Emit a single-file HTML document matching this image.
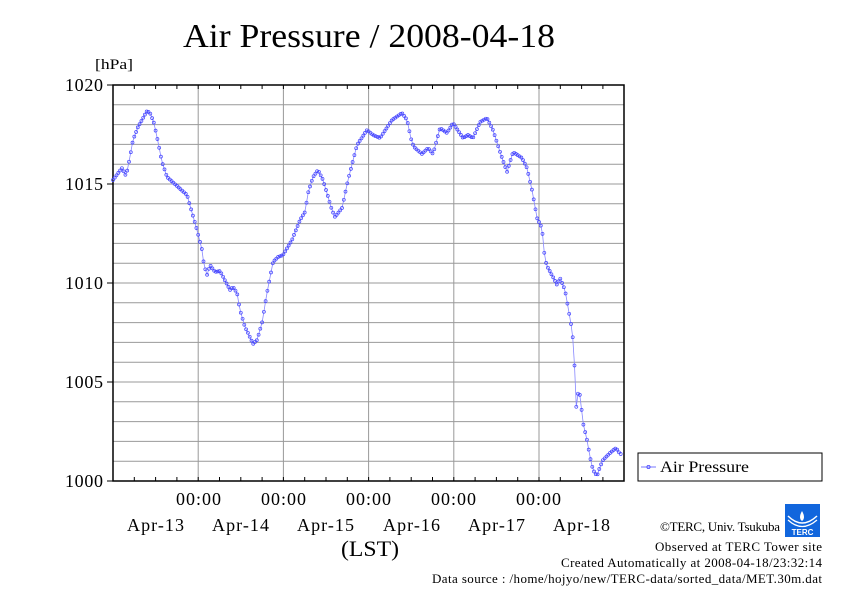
<!DOCTYPE html>
<html><head><meta charset="utf-8"><style>
body{margin:0;background:#fff;width:842px;height:595px;overflow:hidden}
svg{display:block;font-family:"Liberation Serif",serif}
</style></head><body>
<svg id="s" width="842" height="595" viewBox="0 0 842 595" xmlns="http://www.w3.org/2000/svg">
<rect width="842" height="595" fill="#fff"/>
<text x="183" y="47" font-size="34" textLength="372" lengthAdjust="spacingAndGlyphs">Air Pressure / 2008-04-18</text>
<text x="95" y="69" font-size="15" textLength="38" lengthAdjust="spacingAndGlyphs">[hPa]</text>
<g id="grid" stroke="#999" stroke-width="1"></g>
<rect x="113" y="85" width="511" height="396" fill="none" stroke="#000" stroke-width="1.5"/>
<g id="ticks" stroke="#000" stroke-width="1"></g>
<g font-size="18" lengthAdjust="spacingAndGlyphs">
<text x="65" y="91" textLength="38">1020</text><text x="65" y="190" textLength="38">1015</text><text x="65" y="289" textLength="38">1010</text><text x="65" y="388" textLength="38">1005</text><text x="65" y="487" textLength="38">1000</text>
</g>
<g font-size="18" lengthAdjust="spacingAndGlyphs">
<text x="176" y="505" textLength="45">00:00</text><text x="261" y="505" textLength="45">00:00</text><text x="346" y="505" textLength="45">00:00</text><text x="431" y="505" textLength="45">00:00</text><text x="516" y="505" textLength="45">00:00</text>
<text x="127" y="531" textLength="57">Apr-13</text><text x="212" y="531" textLength="57">Apr-14</text><text x="297" y="531" textLength="57">Apr-15</text><text x="383" y="531" textLength="57">Apr-16</text><text x="468" y="531" textLength="57">Apr-17</text><text x="553" y="531" textLength="57">Apr-18</text>
</g>
<text x="341" y="556" font-size="22" textLength="58" lengthAdjust="spacingAndGlyphs">(LST)</text>
<g id="series"></g>
<rect x="638" y="453" width="184" height="28" fill="#fff" stroke="#000" stroke-width="1"/>
<line x1="641" y1="467" x2="656" y2="467" stroke="#77f" stroke-width="1"/>
<circle cx="648.5" cy="467" r="1.6" fill="none" stroke="#44f" stroke-width="0.8"/>
<text x="660" y="472" font-size="16" textLength="89" lengthAdjust="spacingAndGlyphs">Air Pressure</text>
<g font-size="13" lengthAdjust="spacingAndGlyphs">
<text x="660" y="531" textLength="120">©TERC, Univ. Tsukuba</text>
<text x="655" y="551" textLength="167">Observed at TERC Tower site</text>
<text x="561" y="567" textLength="261">Created Automatically at 2008-04-18/23:32:14</text>
<text x="432" y="583" textLength="390">Data source : /home/hojyo/new/TERC-data/sorted_data/MET.30m.dat</text>
</g>
<g>
<rect x="785" y="504" width="35" height="33" fill="#1166dd"/>
<path d="M788 516 Q802 530 817 516" stroke="#fff" stroke-width="1.5" fill="none"/>
<path d="M788 520 Q802 533 817 520" stroke="#fff" stroke-width="1.2" fill="none"/>
<path d="M802 511 Q798 518 802 521 Q806 518 802 511Z" fill="#fff"/>
<text x="802.5" y="535" font-size="8" fill="#fff" text-anchor="middle" font-family="Liberation Sans,sans-serif" font-weight="bold">TERC</text>
</g>
</svg>
<script>
var NS="http://www.w3.org/2000/svg";
function el(t,a,p){var e=document.createElementNS(NS,t);for(var k in a)e.setAttribute(k,a[k]);p.appendChild(e);return e;}
var g=document.getElementById("grid"),tk=document.getElementById("ticks");
for(var i=1;i<20;i++){var y=85+i*19.8;el("line",{x1:113,x2:624,y1:y,y2:y},g);}
for(var i=0;i<=4;i++){var y=85+i*99;el("line",{x1:107,x2:113,y1:y,y2:y},tk);}
var L=113,D=85.2;
for(var d=1;d<6;d++){var x=L+d*D;el("line",{x1:x,x2:x,y1:85,y2:481},g);}
for(var q=1;q<24;q++){var x=L+q*D/4;el("line",{x1:x,x2:x,y1:85,y2:89},tk);el("line",{x1:x,x2:x,y1:481,y2:477},tk);}
var k=[[113,180],[122,168],[126,176],[128,167],[133,140],[138,127],[147,111],[150,113],[154,123],[158,142],[162,162],[167,177],[177,186],[187,195],[197,230],[202,250],[204,265],[207,275],[210,265],[215,272],[220,271],[230,290],[233,287],[237,293],[240,310],[245,327],[248,333],[253,344],[257,340],[262,323],[267,293],[273,262],[278,257],[283,255],[292,240],[300,220],[305,212],[308,193],[313,177],[318,170],[323,180],[332,210],[335,217],[342,208],[348,180],[357,145],[367,130],[373,135],[380,138],[392,120],[402,113],[407,120],[412,143],[415,148],[422,154],[428,148],[433,154],[440,128],[447,133],[453,123],[463,138],[468,135],[473,138],[480,122],[487,118],[493,130],[500,152],[507,172],[513,152],[522,158],[527,168],[532,190],[537,218],[542,228],[545,260],[548,268],[553,277],[557,285],[560,278],[565,290],[568,307],[572,330],[574,350],[576,412],[577,393],[580,395],[583,423],[587,440],[590,457],[593,470],[597,476],[600,467],[603,460],[610,453],[616,448],[620,454]];
function yat(x){for(var i=0;i<k.length-1;i++){if(x<=k[i+1][0]){var t=(x-k[i][0])/(k[i+1][0]-k[i][0]);return k[i][1]+t*(k[i+1][1]-k[i][1]);}}return k[k.length-1][1];}
var s=document.getElementById("series"),pts=[];
for(var n=0;n<288;n++){var x=L+n*D/48;if(x>621)break;pts.push([x,yat(x)]);}
el("polyline",{points:pts.map(function(p){return p[0].toFixed(1)+","+p[1].toFixed(1)}).join(" "),fill:"none",stroke:"#88f","stroke-width":"0.8"},s);
pts.forEach(function(p){el("circle",{cx:p[0].toFixed(1),cy:p[1].toFixed(1),r:1.5,fill:"none",stroke:"#44f","stroke-width":"0.7"},s);});
</script>
</body></html>
